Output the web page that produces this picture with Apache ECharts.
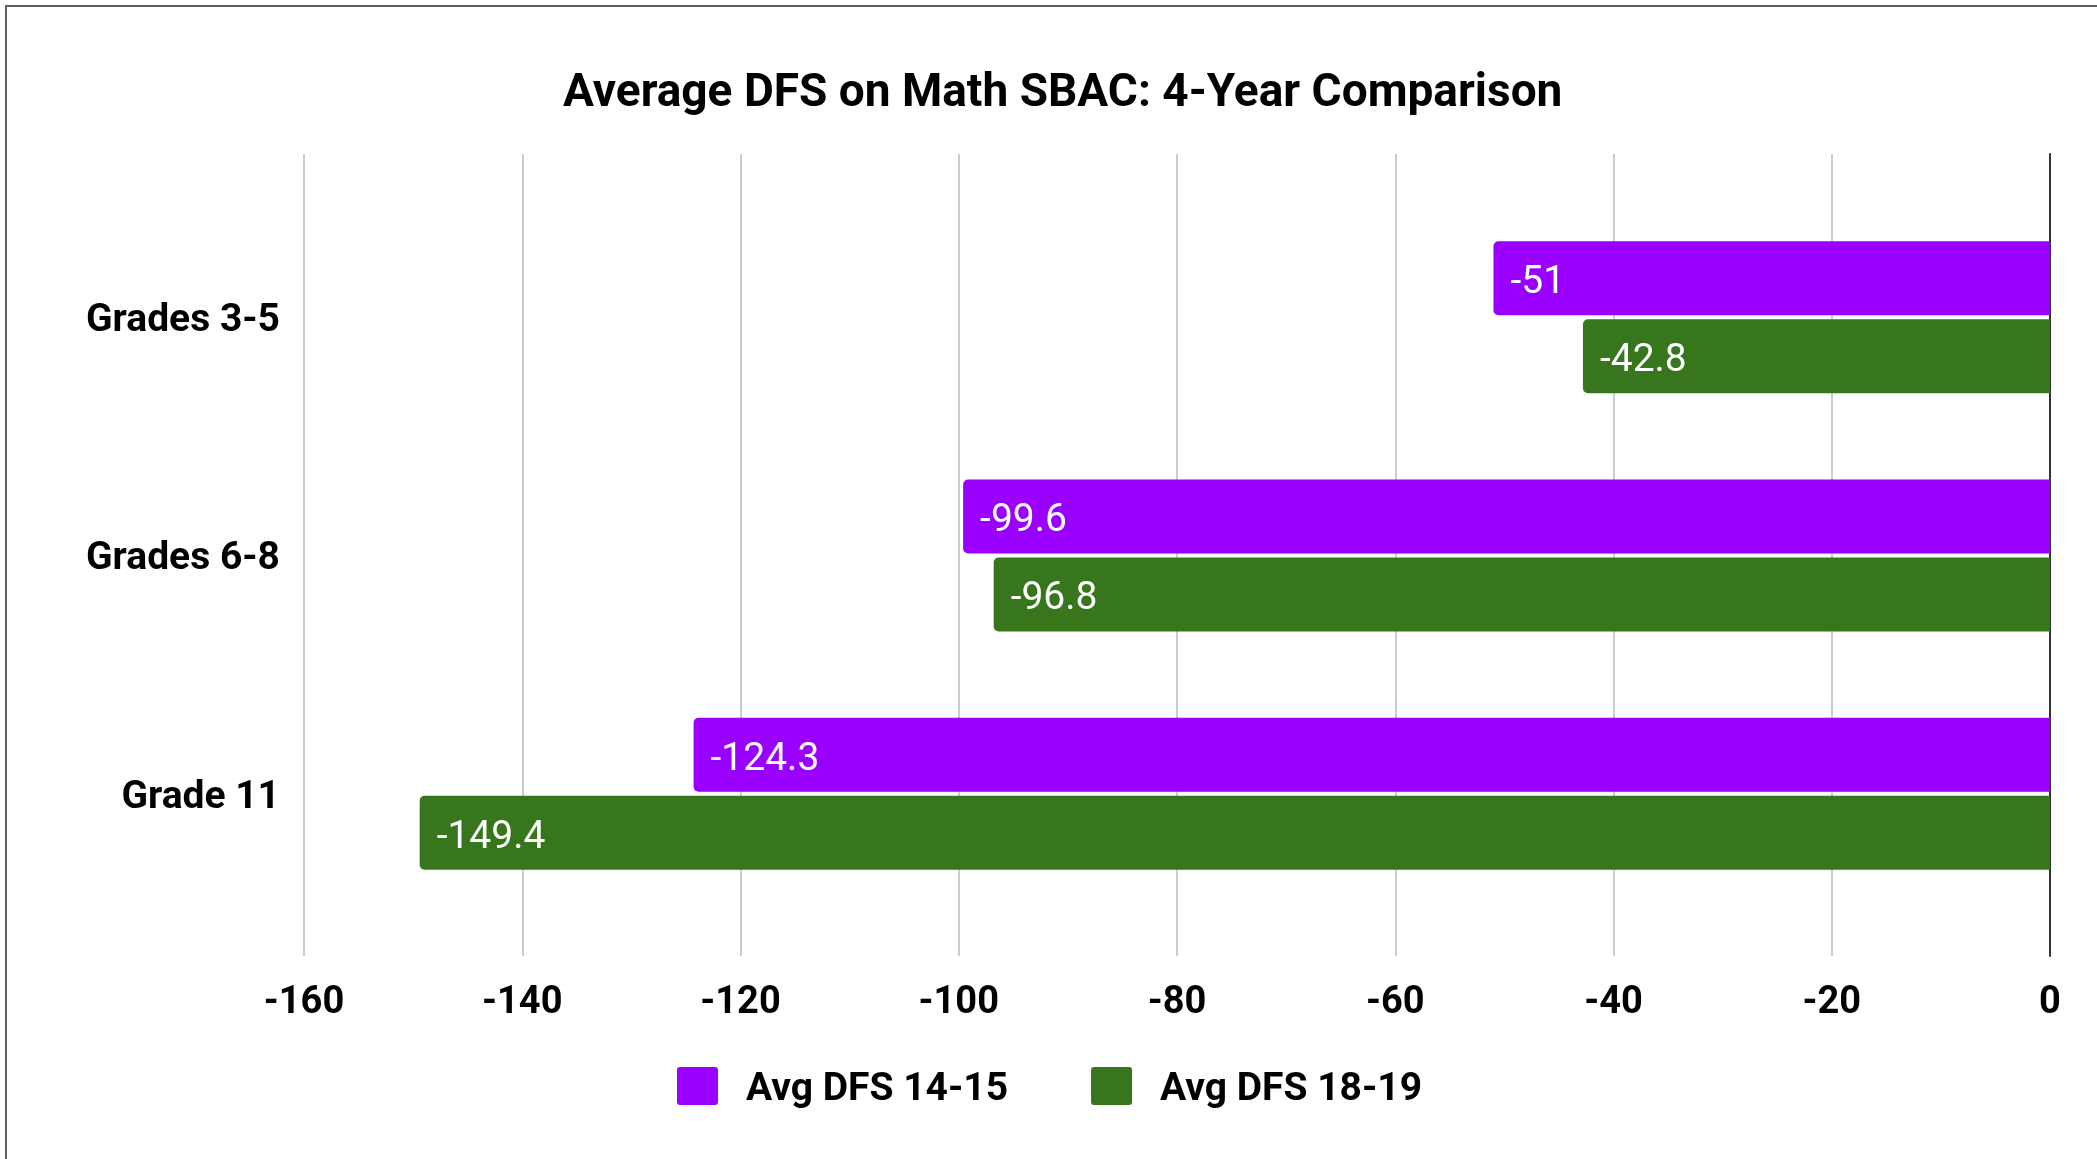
<!DOCTYPE html>
<html>
<head>
<meta charset="utf-8">
<script src="https://cdn.jsdelivr.net/npm/echarts@6/dist/echarts.min.js"></script>
<style>
  html, body { margin: 0; padding: 0; background: #fff; }
  #frame {
    position: absolute; left: 5px; top: 5px; width: 2092px; height: 1154px;
    border-left: 2px solid #606060; border-top: 2px solid #606060;
  }
  #chart { position: absolute; left: 0; top: 0; width: 2097px; height: 1159px; }
</style>
</head>
<body>
<div id="frame"></div>
<div id="chart"></div>
<script>
var titleText = 'Average DFS on Math SBAC: 4-Year Comparison';
var categories = ['Grades 3-5', 'Grades 6-8', 'Grade 11'];
var seriesNames = ['Avg DFS 14-15', 'Avg DFS 18-19'];
var dfs1415 = [-51, -99.6, -124.3];
var dfs1819 = [-42.8, -96.8, -149.4];
var xMin = -160, xMax = 0, xStep = 20;

var colors = ['#9900ff', '#38761d'];
var font = 'Roboto';

var chart = echarts.init(document.getElementById('chart'));

// grid 0 holds the bars, grid 1 only draws the taller gridlines + labels
var makeBar = function (name, data, color) {
	return {
		name: name,
		type: 'bar',
		xAxisIndex: 0,
		yAxisIndex: 0,
		data: data,
		barWidth: 74,
		barGap: '5.4%',
		itemStyle: { color: color, borderRadius: [5, 0, 0, 5] },
		label: {
			show: true,
			position: 'insideLeft',
			distance: 17,
			offset: [0, 5],
			color: '#ffffff',
			fontFamily: font,
			fontSize: 39
		}
	};
};

// small-radius square for the legend keys
var legendIcon = 'path://M3,0H38Q41,0,41,3V35Q41,38,38,38H3Q0,38,0,35V3Q0,0,3,0Z';

// bold label text nudged a few px down (rich padding shifts the glyphs)
var boldRich = function (size, left) {
	return {
		t: {
			fontFamily: font, fontWeight: 'bold', fontSize: size, color: '#000',
			padding: [8, 0, 0, left || 0]
		}
	};
};

var option = {
	animation: false,
	backgroundColor: 'transparent',
	color: colors,
	title: {
		text: titleText,
		left: 563,
		top: 71,
		padding: 0,
		textStyle: { fontFamily: font, fontWeight: 'bold', fontSize: 46, color: '#000' }
	},
	legend: {
		data: seriesNames,
		left: 677,
		top: 1067,
		padding: 0,
		itemWidth: 41,
		itemHeight: 38,
		itemGap: 83,
		icon: legendIcon,
		formatter: function (name) { return '{t|' + name + '}'; },
		textStyle: {
			fontFamily: font, fontWeight: 'bold', fontSize: 39, color: '#000',
			rich: boldRich(39, 23)
		}
	},
	grid: [
		{ left: 304, right: 47, top: 198, bottom: 246 },
		{ left: 304, right: 47, top: 154, bottom: 203 }
	],
	xAxis: [
		{
			gridIndex: 0, type: 'value', min: xMin, max: xMax, interval: xStep,
			axisLine: { show: false }, axisTick: { show: false },
			axisLabel: { show: false }, splitLine: { show: false }
		},
		{
			gridIndex: 1, type: 'value', min: xMin, max: xMax, interval: xStep,
			axisLine: { show: false }, axisTick: { show: false },
			axisLabel: { margin: 28, fontFamily: font, fontWeight: 'bold', fontSize: 38, color: '#000' },
			splitLine: { show: true, lineStyle: { color: '#cccccc', width: 2 } }
		}
	],
	yAxis: [
		{
			gridIndex: 0, type: 'category', data: categories, inverse: true,
			axisLine: { show: false }, axisTick: { show: false },
			axisLabel: {
				margin: 24,
				formatter: function (v) { return '{t|' + v + '}'; },
				rich: boldRich(39)
			}
		},
		{
			gridIndex: 1, type: 'value', position: 'right', min: 0, max: 1,
			axisLine: { show: true, onZero: false, lineStyle: { color: '#333333', width: 2 } },
			axisTick: { show: false }, axisLabel: { show: false }, splitLine: { show: false }
		}
	],
	series: [
		makeBar(seriesNames[0], dfs1415, colors[0]),
		makeBar(seriesNames[1], dfs1819, colors[1])
	]
};

chart.setOption(option);
</script>
</body>
</html>
